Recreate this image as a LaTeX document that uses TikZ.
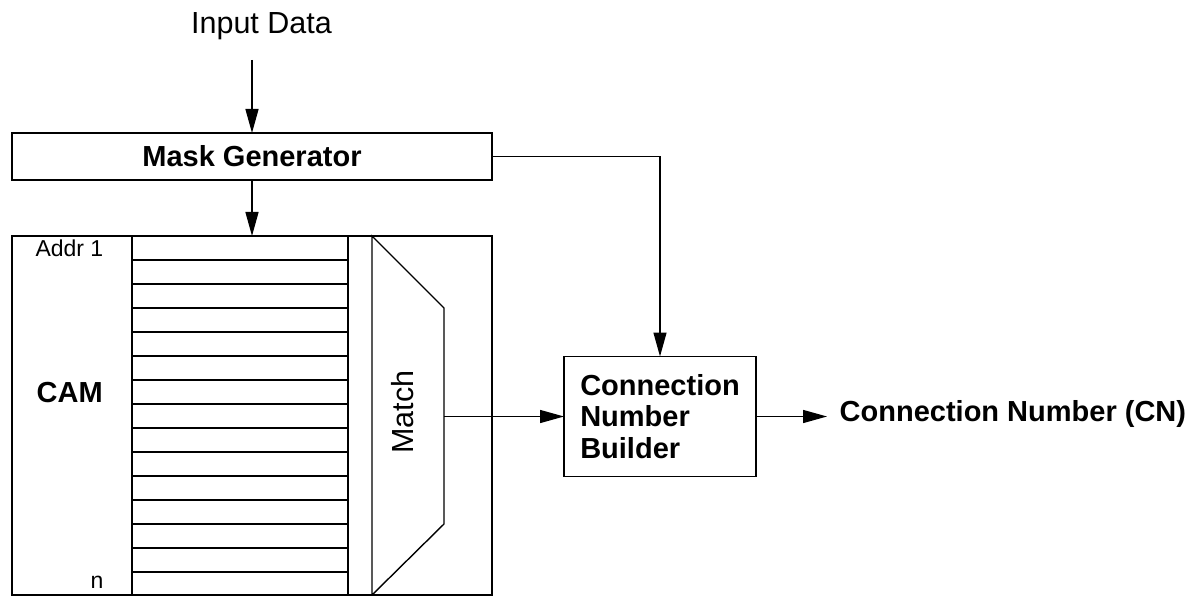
\documentclass[tikz,border=0pt]{standalone}
\usepackage{fontspec}
\setmainfont{Liberation Sans}
\usetikzlibrary{
  arrows.meta,
  positioning
}

\begin{document}
\begin{tikzpicture}[
    % Canvas in pixels.
    x = 1pt, y = -1pt,
    line width = 1.4pt,
    % Boxes.
    block/.style = {
      draw,
      inner sep = 0pt,
      outer sep = 0pt
    },
    % Connectors.
    flow/.style = {
      -{Triangle[length = 24pt, width = 13pt]}
    },
    % Texts.
    big/.style = {font = \fontsize{30.5}{31.5}\selectfont},
    bigbold/.style = {font = \fontsize{29}{31.5}\selectfont\bfseries},
    small/.style = {font = \fontsize{23}{24}\selectfont}
  ]
  \useasboundingbox (0, 0) rectangle (1194, 596);

  % Blocks.
  \node[anchor = base, big] (input) at (261.5, 34) {Input Data};
  \node[block, minimum width = 480pt, minimum height = 47pt, bigbold] (mask) at (252, 156.5) {Mask Generator};
  \node[block, minimum width = 480pt, minimum height = 359pt] (cam) at (252, 415.5) {};
  \node[block, minimum width = 216pt, minimum height = 359pt] (rows) at (240, 415.5) {};
  \node[block, minimum width = 192pt, minimum height = 120pt, bigbold, align = left, xshift = -3pt] (builder) at (663, 416.5) {Connection\\Number\\Builder};

  % Labels.
  \node[anchor = base east, small, inner sep = 0pt] (first) at (104, 256) {Addr 1};
  \node[anchor = base east, small, inner sep = 0pt] (last) at (104, 588) {n};
  \node[anchor = west, bigbold, inner sep = 0pt] (camlabel) at (36, 393) {CAM};
  \node[rotate = 90, big, inner sep = 0pt] (match) at (403, 412) {Match};
  \node[anchor = west, bigbold, inner sep = 0pt] (cn) at (839, 414) {Connection Number (CN)};

  % Memory rows.
  \foreach \i in {1, ..., 14}
    \draw (rows.north west) ++(0, 24*\i) -- ++(216, 0);

  % Match unit.
  \draw (372, 236) -- (444, 308) -- (444, 524) -- (372, 595) -- cycle;

  % Connectors.
  \coordinate (feed) at (252, 60);
  \coordinate (mout) at (444, 416.5);
  \coordinate (result) at (827, 416.5);
  \draw[flow] (feed) -- (mask.north);
  \draw[flow] (mask.south) -- (cam.north);
  \draw[flow] (mask.east) -| (builder.north);
  \draw[flow] (mout) -- (builder.west);
  \draw[flow] (builder.east) -- (result);
\end{tikzpicture}
\end{document}
